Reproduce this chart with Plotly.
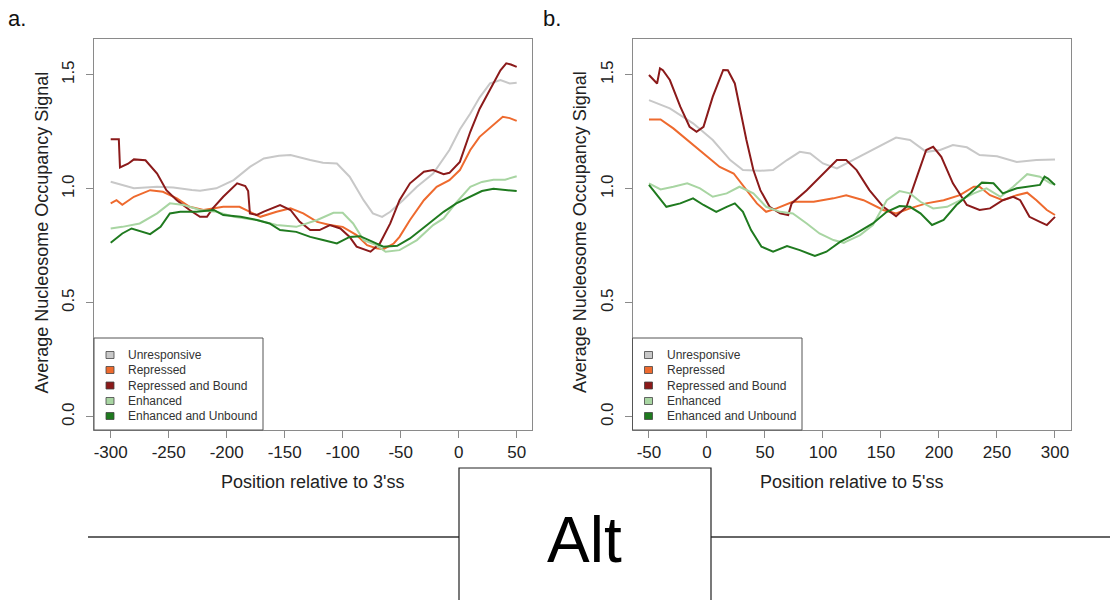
import plotly.graph_objects as go

# ---------------- data ----------------
series_names = ["Unresponsive", "Repressed", "Repressed and Bound", "Enhanced", "Enhanced and Unbound"]
series_colors = ["#c8c8c8", "#ee6a2e", "#8b1a1a", "#a8d5a2", "#1f7a1f"]

# Panel a (relative to 3'ss)
a_unresp_x = [-300, -280, -260, -246, -230, -223, -209, -194, -180, -168, -155, -145, -128, -117, -105, -94, -82, -74, -66, -59, -48, -36, -22, -8, 1, 10, 18, 27, 36, 44, 50]
a_unresp_y = [1.031, 1.002, 1.009, 1.006, 0.995, 0.991, 1.002, 1.038, 1.096, 1.133, 1.145, 1.148, 1.126, 1.114, 1.111, 1.053, 0.95, 0.892, 0.877, 0.899, 0.95, 1.009, 1.067, 1.17, 1.26, 1.33, 1.40, 1.462, 1.477, 1.462, 1.465]

a_rep_x = [-300, -295, -290, -280, -266, -255, -243, -232, -220, -203, -189, -180, -171, -157, -145, -134, -122, -111, -100, -88, -79, -71, -65, -56, -51, -42, -30, -19, -8, 1, 10, 18, 28, 38, 44, 50]
a_rep_y = [0.936, 0.95, 0.93, 0.965, 0.994, 0.987, 0.958, 0.921, 0.907, 0.921, 0.921, 0.899, 0.877, 0.899, 0.914, 0.892, 0.855, 0.841, 0.833, 0.797, 0.753, 0.739, 0.735, 0.76, 0.789, 0.863, 0.95, 1.009, 1.038, 1.082, 1.17, 1.228, 1.27, 1.316, 1.31, 1.298]

a_repb_x = [-300, -293, -292, -285, -280, -270, -260, -252, -243, -232, -223, -217, -212, -203, -191, -184, -181.5, -180, -174, -168, -154, -145, -137, -128, -120, -111, -102, -94, -88, -76, -68, -59, -51, -42, -30, -22, -13, -8, 1, 10, 18, 27, 36, 41, 45, 50]
a_repb_y = [1.217, 1.217, 1.094, 1.11, 1.129, 1.125, 1.067, 0.994, 0.950, 0.907, 0.877, 0.877, 0.914, 0.965, 1.024, 1.012, 0.99, 0.892, 0.885, 0.9, 0.929, 0.907, 0.855, 0.819, 0.819, 0.841, 0.826, 0.789, 0.746, 0.724, 0.76, 0.848, 0.95, 1.024, 1.075, 1.082, 1.064, 1.07, 1.118, 1.25, 1.35, 1.432, 1.52, 1.55, 1.545, 1.535]

a_enh_x = [-300, -290, -275, -260, -249, -237, -223, -209, -194, -174, -157, -140, -122, -108, -100, -91, -82, -71, -63, -51, -36, -22, -13, -2, 10, 20, 30, 40, 50]
a_enh_y = [0.826, 0.833, 0.848, 0.892, 0.936, 0.929, 0.907, 0.899, 0.877, 0.863, 0.841, 0.833, 0.863, 0.895, 0.895, 0.848, 0.775, 0.753, 0.724, 0.731, 0.775, 0.841, 0.87, 0.94, 1.009, 1.03, 1.04, 1.04, 1.055]

a_enhu_x = [-300, -290, -282, -273, -266, -257, -249, -240, -226, -211, -203, -188, -174, -163, -154, -140, -128, -117, -105, -94, -85, -74, -65, -53, -42, -30, -13, -2, 10, 20, 30, 40, 50]
a_enhu_y = [0.763, 0.804, 0.826, 0.811, 0.801, 0.833, 0.892, 0.899, 0.899, 0.907, 0.885, 0.877, 0.863, 0.848, 0.819, 0.811, 0.789, 0.775, 0.76, 0.789, 0.792, 0.767, 0.746, 0.75, 0.782, 0.83, 0.899, 0.936, 0.965, 0.99, 1.0, 0.995, 0.99]

# Panel b (relative to 5'ss)
b_unresp_x = [-50, -32, -12, 5, 20, 31, 46, 57, 69, 80, 89, 100, 112, 126, 143, 163, 175, 189, 201, 212, 224, 235, 250, 267, 284, 300]
b_unresp_y = [1.389, 1.353, 1.287, 1.214, 1.126, 1.082, 1.079, 1.082, 1.126, 1.162, 1.155, 1.111, 1.089, 1.126, 1.17, 1.225, 1.214, 1.162, 1.17, 1.192, 1.182, 1.148, 1.143, 1.118, 1.126, 1.129]

b_rep_x = [-50, -40, -29, -17, -3, 11, 23, 34, 43, 51, 60, 74, 92, 109, 120, 135, 152, 163, 175, 189, 204, 218, 230, 235, 244, 255, 267, 276, 284, 293, 300]
b_rep_y = [1.304, 1.304, 1.265, 1.214, 1.155, 1.096, 1.067, 0.994, 0.936, 0.899, 0.914, 0.943, 0.943, 0.958, 0.972, 0.95, 0.907, 0.892, 0.914, 0.936, 0.95, 0.972, 1.009, 1.009, 0.972, 0.95, 0.972, 0.983, 0.95, 0.907, 0.885]

b_repb_x = [-50, -43, -40.5, -38, -32, -23, -15, -9, -3, 5, 14, 18, 24, 28, 34, 40, 46, 54, 63, 70, 73, 86, 100, 112, 120, 129, 140, 152, 163, 172, 181, 189, 195, 202, 212, 224, 235, 244, 255, 264, 270, 278, 287, 293, 300]
b_repb_y = [1.499, 1.462, 1.528, 1.52, 1.477, 1.36, 1.272, 1.25, 1.272, 1.404, 1.521, 1.52, 1.462, 1.36, 1.214, 1.082, 0.994, 0.921, 0.892, 0.885, 0.936, 0.994, 1.067, 1.126, 1.126, 1.082, 0.994, 0.921, 0.88, 0.921, 1.053, 1.17, 1.184, 1.14, 1.024, 0.929, 0.907, 0.914, 0.95, 0.965, 0.95, 0.877, 0.855, 0.841, 0.877]

b_enh_x = [-50, -40, -29, -17, -6, 5, 17, 28, 40, 51, 63, 74, 86, 97, 109, 118, 120, 132, 143, 155, 166, 175, 184, 195, 207, 218, 230, 241, 253, 264, 276, 287, 296, 300]
b_enh_y = [1.024, 0.997, 1.009, 1.024, 1.002, 0.965, 0.98, 1.009, 0.98, 0.921, 0.899, 0.892, 0.848, 0.804, 0.775, 0.763, 0.768, 0.797, 0.841, 0.95, 0.99, 0.98, 0.943, 0.914, 0.921, 0.95, 0.98, 1.002, 0.965, 1.009, 1.064, 1.053, 1.024, 1.02]

b_enhu_x = [-50, -43, -35, -23, -12, -3, 8, 17, 24, 31, 38, 47, 57, 69, 80, 93, 103, 115, 126, 143, 155, 166, 175, 184, 194, 204, 215, 227, 237, 247, 255, 267, 278, 287, 291, 294, 300]
b_enhu_y = [1.017, 0.972, 0.921, 0.936, 0.958, 0.929, 0.899, 0.921, 0.936, 0.899, 0.819, 0.746, 0.724, 0.749, 0.731, 0.705, 0.724, 0.768, 0.797, 0.848, 0.899, 0.924, 0.921, 0.892, 0.841, 0.863, 0.929, 0.98, 1.027, 1.024, 0.98, 1.002, 1.009, 1.017, 1.053, 1.045, 1.017]

x_ticks_a = [-300, -250, -200, -150, -100, -50, 0, 50]
x_tick_labels_a = ["-300", "-250", "-200", "-150", "-100", "-50", "0", "50"]
x_ticks_b = [-50, 0, 50, 100, 150, 200, 250, 300]
x_tick_labels_b = ["-50", "0", "50", "100", "150", "200", "250", "300"]
y_ticks = [0.0, 0.5, 1.0, 1.5]
y_tick_labels = ["0.0", "0.5", "1.0", "1.5"]

panel_a = [(a_unresp_x, a_unresp_y), (a_rep_x, a_rep_y), (a_repb_x, a_repb_y), (a_enh_x, a_enh_y), (a_enhu_x, a_enhu_y)]
panel_b = [(b_unresp_x, b_unresp_y), (b_rep_x, b_rep_y), (b_repb_x, b_repb_y), (b_enh_x, b_enh_y), (b_enhu_x, b_enhu_y)]

# ---------------- figure ----------------
W, H = 1110, 600
FONT = "Liberation Sans, Arial, sans-serif"
FRAME = "#8a8a8a"

def px(x):
    return x / W

def py(y):
    return 1 - y / H

fig = go.Figure()
for idx, (panel, xa, ya) in enumerate([(panel_a, "x", "y"), (panel_b, "x2", "y2")]):
    for (xs, ys), name, col in zip(panel, series_names, series_colors):
        fig.add_trace(go.Scatter(x=xs, y=ys, mode="lines", name=name, xaxis=xa, yaxis=ya,
                                 line=dict(color=col, width=2), showlegend=False))

# frame pixel geometry
a_left, a_right = 94, 532
b_left, b_right = 632.5, 1071
top, bottom = 39, 430

common_x = dict(showgrid=False, zeroline=False, showline=True, linecolor=FRAME, linewidth=1, mirror=True,
                ticks="outside", ticklen=7, tickcolor=FRAME, tickwidth=1,
                tickfont=dict(family=FONT, size=17, color="#222"))
common_y = dict(showgrid=False, zeroline=False, showline=True, linecolor=FRAME, linewidth=1, mirror=True,
                ticks="outside", ticklen=7, tickcolor=FRAME, tickwidth=1, tickangle=-90,
                tickvals=y_ticks, ticktext=y_tick_labels, range=[-0.058, 1.657], ticklabelstandoff=5,
                tickfont=dict(family=FONT, size=17, color="#222"))

fig.update_layout(
    width=W, height=H, margin=dict(l=0, r=0, t=0, b=0),
    paper_bgcolor="white", plot_bgcolor="white",
    xaxis=dict(domain=[px(a_left), px(a_right)], range=[-314.4, 63.2], tickvals=x_ticks_a,
               ticktext=x_tick_labels_a, anchor="y", **common_x),
    yaxis=dict(domain=[py(bottom), py(top)], anchor="x", **common_y),
    xaxis2=dict(domain=[px(b_left), px(b_right)], range=[-64.2, 313.8], tickvals=x_ticks_b,
                ticktext=x_tick_labels_b, anchor="y2", **common_x),
    yaxis2=dict(domain=[py(bottom), py(top)], anchor="x2", **common_y),
)

shapes = []
annotations = []

# Axis titles and panel letters
for left, right, xtitle, letter, letter_x in [
    (a_left, a_right, "Position relative to 3'ss", "a.", 17),
    (b_left, b_right, "Position relative to 5'ss", "b.", 552),
]:
    annotations.append(dict(text=xtitle, x=px((left + right) / 2), y=py(482), xref="paper", yref="paper",
                            xanchor="center", yanchor="middle", showarrow=False,
                            font=dict(family=FONT, size=18, color="#222")))
    annotations.append(dict(text="Average Nucleosome Occupancy Signal", x=px(left - 52), y=py((top + bottom) / 2 - 2),
                            xref="paper", yref="paper", xanchor="center", yanchor="middle", textangle=-90,
                            showarrow=False, font=dict(family=FONT, size=18, color="#222")))
    annotations.append(dict(text=letter, x=px(letter_x), y=py(19), xref="paper", yref="paper",
                            xanchor="center", yanchor="middle", showarrow=False,
                            font=dict(family=FONT, size=22, color="#111")))

# Legends (drawn as boxes inside each panel)
entry_y = [355, 370, 385.5, 401, 416]
for left, width in [(a_left, 169), (b_left, 169.5)]:
    shapes.append(dict(type="rect", xref="paper", yref="paper", x0=px(left), x1=px(left + width),
                       y0=py(bottom), y1=py(338), line=dict(color="#555", width=1), fillcolor="white"))
    for name, col, ey in zip(series_names, series_colors, entry_y):
        sx = left + 16
        shapes.append(dict(type="rect", xref="paper", yref="paper", x0=px(sx - 4), x1=px(sx + 4),
                           y0=py(ey + 3.5), y1=py(ey - 3.5), line=dict(color="#444", width=0.8), fillcolor=col))
        annotations.append(dict(text=name, x=px(left + 32), y=py(ey), xref="paper", yref="paper",
                                xanchor="left", yanchor="middle", showarrow=False,
                                font=dict(family=FONT, size=12, color="#333")))

# "Alt" box and horizontal rule
shapes.append(dict(type="line", xref="paper", yref="paper", x0=px(88), x1=px(459), y0=py(537), y1=py(537),
                   line=dict(color="#333", width=1.3)))
shapes.append(dict(type="line", xref="paper", yref="paper", x0=px(711), x1=px(1110), y0=py(537), y1=py(537),
                   line=dict(color="#333", width=1.3)))
shapes.append(dict(type="rect", xref="paper", yref="paper", x0=px(459), x1=px(711), y0=py(610), y1=py(468),
                   line=dict(color="#222", width=1.2), fillcolor="rgba(0,0,0,0)"))
annotations.append(dict(text="Alt", x=px(585), y=py(540), xref="paper", yref="paper", xanchor="center",
                        yanchor="middle", showarrow=False, font=dict(family=FONT, size=64, color="#000")))

fig.update_layout(shapes=shapes, annotations=annotations)
fig.write_html("out.html")
